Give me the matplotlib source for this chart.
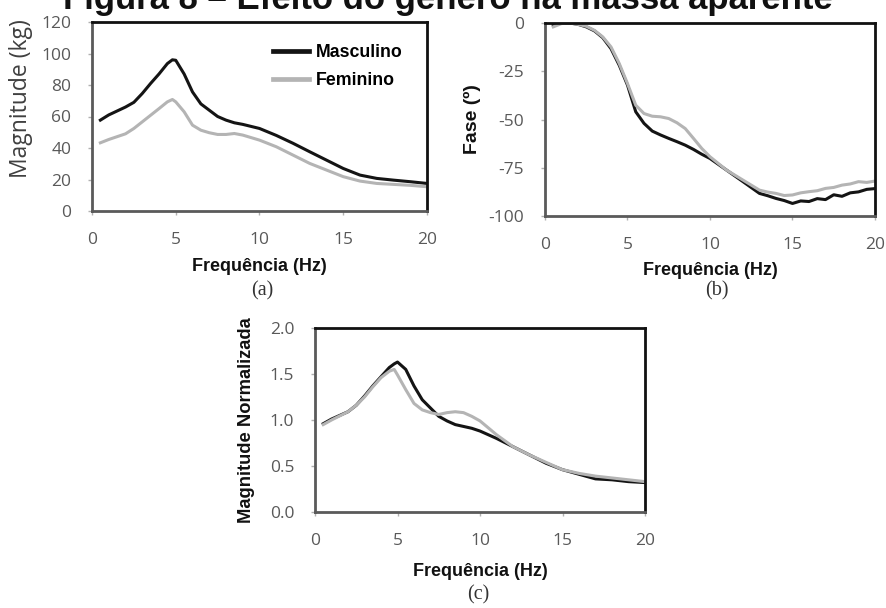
import numpy as np
import matplotlib
matplotlib.use("Agg")
import matplotlib.pyplot as plt

# frequency grid (Hz) and apparent-mass curves read per panel
freq_a = [0.5, 1, 2, 2.5, 3, 3.5, 4, 4.5, 4.8, 5, 5.5, 6, 6.5, 7, 7.5, 8, 8.5, 9,
          10, 11, 12, 13, 14, 15, 16, 17, 18, 19, 20]
mag_masc = [57.7, 61, 66, 69, 74.6, 81, 87, 93.6, 96, 95.7, 87, 75.6, 68, 64, 60, 57.7,
            56, 55, 52.4, 48, 43, 37.6, 32.3, 27, 22.8, 20.7, 19.6, 18.6, 17.5]
mag_fem = [43.3, 45.4, 49, 52.4, 56.6, 60.8, 65, 69.3, 70.8, 69.3, 63, 54.5, 51.3, 49.7,
           48.6, 48.6, 49.2, 48.2, 45, 40.8, 35.5, 30.2, 26, 21.8, 19, 17.5, 16.9, 16.3, 15.4]

freq_b = [0.5, 1, 1.5, 2, 2.5, 3, 3.5, 4, 4.5, 5, 5.5, 6, 6.5, 7, 7.5, 8, 8.5, 9, 9.5,
          10, 11, 12, 13, 13.5, 14, 14.5, 15, 15.5, 16, 16.5, 17, 17.5, 18, 18.5, 19,
          19.5, 20]
fase_masc = [-1.2, 0, 0, -0.7, -2, -4.1, -7.6, -13.3, -21.9, -32.2, -46, -52, -56, -58,
             -59.8, -61.5, -63.3, -65.5, -68, -70.2, -76.2, -82.2, -88.3, -89.5, -90.9,
             -92.0, -93.5, -92.2, -92.5, -91.0, -91.5, -89.0, -89.8, -88.0, -87.5, -86.2,
             -85.8]
fase_fem = [-2, -0.3, 0, -0.7, -1.7, -3.8, -7.2, -12.4, -21, -31.4, -42.6, -46.9, -48.3,
            -48.6, -49.5, -51.7, -54.7, -59.8, -65, -69.3, -76.2, -81.4, -86.6, -87.6,
            -88.3, -89.4, -89.1, -88.0, -87.4, -86.9, -85.7, -85.2, -84.0, -83.4, -82.2,
            -82.6, -81.9]

freq_c = [0.5, 1, 2, 2.5, 3, 3.5, 4, 4.5, 4.8, 5, 5.5, 6, 6.5, 7, 7.5, 8, 8.5, 9, 9.5,
          10, 11, 12, 13, 14, 15, 16, 17, 18, 19, 20]
norm_masc = [0.96, 1.01, 1.09, 1.16, 1.26, 1.37, 1.47, 1.57, 1.61, 1.63, 1.55, 1.37, 1.22,
             1.13, 1.04, 0.99, 0.95, 0.93, 0.91, 0.88, 0.80, 0.71, 0.62, 0.53, 0.46, 0.41,
             0.36, 0.35, 0.33, 0.32]
norm_fem = [0.95, 1.0, 1.09, 1.16, 1.25, 1.36, 1.46, 1.53, 1.55, 1.49, 1.33, 1.18, 1.11,
            1.08, 1.06, 1.08, 1.09, 1.08, 1.04, 0.99, 0.84, 0.71, 0.62, 0.54, 0.46, 0.42,
            0.39, 0.37, 0.35, 0.33]

x_ticks = [0, 5, 10, 15, 20]
ticks_a = [0, 20, 40, 60, 80, 100, 120]
ticks_b = [0, -25, -50, -75, -100]
ticks_c = [0.0, 0.5, 1.0, 1.5, 2.0]

BLACK = "#141414"
GRAY = "#b4b4b4"
LW = 2.2
TICK_FONT = "Open Sans"
BOLD_FONT = ["Liberation Sans", "DejaVu Sans"]

W, H = 887, 608
fig = plt.figure(figsize=(W / 100, H / 100), dpi=100)


def px_axes(left, top, right, bottom):
    return fig.add_axes([left / W, 1 - bottom / H, (right - left) / W, (bottom - top) / H])


def style(ax, yticks, yfmt):
    ax.set_xlim(0, 20)
    ax.set_ylim(min(yticks), max(yticks))
    ax.set_xticks(x_ticks)
    ax.set_yticks(yticks)
    ax.set_yticklabels([yfmt.format(v) for v in yticks])
    for s in ("left", "bottom"):
        ax.spines[s].set_color("#5a5a5a")
        ax.spines[s].set_linewidth(2.0)
    for s in ("top", "right"):
        ax.spines[s].set_color("#111111")
        ax.spines[s].set_linewidth(2.0)
    ax.tick_params(direction="out", length=3, width=1, color="#b0b0b0",
                   labelcolor="#595959", labelsize=12.5, pad=12)
    for lab in ax.get_xticklabels() + ax.get_yticklabels():
        lab.set_fontfamily(TICK_FONT)


# (a) magnitude
ax_a = px_axes(92, 22, 427, 211)
ax_a.plot(freq_a, mag_masc, color=BLACK, lw=LW, label="Masculino")
ax_a.plot(freq_a, mag_fem, color=GRAY, lw=LW, label="Feminino")
style(ax_a, ticks_a, "{:d}")
ax_a.set_ylabel("Magnitude (kg)", fontfamily=TICK_FONT, fontsize=16.5, color="#404040")
ax_a.yaxis.set_label_coords(-0.176, 0.593)
leg = ax_a.legend(loc="upper left", bbox_to_anchor=(0.515, 0.93), frameon=False,
                  handlelength=2.0, handletextpad=0.4, labelspacing=0.6, borderpad=0,
                  prop={"family": BOLD_FONT, "weight": "bold", "size": 12.8})
for ln in leg.get_lines():
    ln.set_linewidth(3.4)

# (b) phase
ax_b = px_axes(545, 23, 875, 216)
ax_b.plot(freq_b, fase_masc, color=BLACK, lw=LW)
ax_b.plot(freq_b, fase_fem, color=GRAY, lw=LW)
style(ax_b, ticks_b, "{:d}")
ax_b.set_ylabel("Fase (º)", fontfamily=BOLD_FONT, fontweight="bold", fontsize=14,
                color="#111111")
ax_b.yaxis.set_label_coords(-0.194, 0.5)

# (c) normalized magnitude
ax_c = px_axes(315, 328, 645, 512)
ax_c.plot(freq_c, norm_masc, color=BLACK, lw=LW)
ax_c.plot(freq_c, norm_fem, color=GRAY, lw=LW)
style(ax_c, ticks_c, "{:.1f}")
ax_c.set_ylabel("Magnitude Normalizada", fontfamily=BOLD_FONT,
                fontweight="bold", fontsize=13.2, color="#111111")
ax_c.yaxis.set_label_coords(-0.182, 0.5)

for ax, yoff in ((ax_a, -0.249), (ax_b, -0.238), (ax_c, -0.277)):
    ax.set_xlabel("Frequência (Hz)", fontfamily=BOLD_FONT, fontweight="bold",
                  fontsize=13, color="#111111")
    ax.xaxis.set_label_coords(0.5, yoff)

for lab, x, y in (("(a)", 262, 291), ("(b)", 717, 291), ("(c)", 478, 595)):
    fig.text(x / W, 1 - y / H, lab, ha="center", va="center",
             fontfamily="Liberation Serif", fontsize=14.5, color="#333333")

fig.text(448 / W, 1 - 9 / H, "Figura 8 – Efeito do gênero na massa aparente",
         ha="center", va="baseline", fontfamily=BOLD_FONT, fontweight="bold",
         fontsize=25, color="#111111")

fig.savefig("out.png", dpi=100)
